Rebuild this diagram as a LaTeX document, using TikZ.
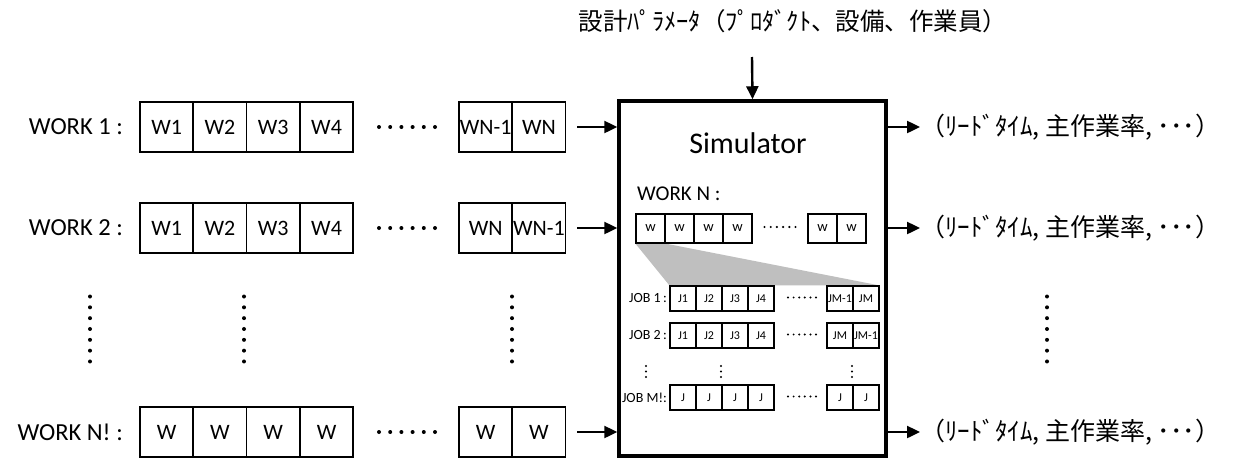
\documentclass[tikz,border=0pt]{standalone}
\usepackage{fontspec}
\setmainfont{Carlito}
\newfontfamily\jpfont{Noto Sans CJK JP}
\usetikzlibrary{arrows.meta,backgrounds}

\begin{document}
\begin{tikzpicture}[x=1pt,y=-1pt,
  cell/.style={draw, line width=1.7pt, fill=white, minimum width=53.3pt, minimum height=50pt,
    inner sep=0pt, font=\fontsize{22}{22}\selectfont},
  wcell/.style={draw, line width=1.2pt, fill=white, minimum width=29pt, minimum height=29pt,
    inner sep=0pt, font=\fontsize{14.5}{14.5}\selectfont},
  jcell/.style={draw, line width=1.1pt, fill=white, minimum width=26pt, minimum height=25pt,
    inner sep=0pt, font=\fontsize{12}{12}\selectfont},
  rowlabel/.style={anchor=east, inner sep=0pt, font=\fontsize{24.5}{24.5}\selectfont},
  joblabel/.style={anchor=east, inner sep=0pt, font=\fontsize{14}{14}\selectfont},
  jptext/.style={inner sep=0pt, font=\jpfont\fontsize{25}{25}\selectfont},
  arr/.style={line width=2.4pt, -{Triangle[length=13pt,width=12pt]}},
]
\useasboundingbox (0,0) rectangle (1234,458);

% simulator block
\node[draw, line width=3.5pt, minimum width=267pt, minimum height=355pt, inner sep=0pt] (sim) at (752.5,278.5) {};
\node[font=\fontsize{30}{30}\selectfont] (simtitle) at (748,143) {Simulator};

% design parameters feeding the simulator
\node[jptext, font=\jpfont\fontsize{24.5}{24.5}\selectfont] (param) at (793,21) {設計ﾊﾟﾗﾒｰﾀ（ﾌﾟﾛﾀﾞｸﾄ、設備、作業員）};
\coordinate (pin) at (752,57);
\draw[arr] (pin) -- (sim.north);

% ---- work sequences (input permutations) ----
\foreach \row/\y/\lab/\a/\b/\c/\d/\e/\f in {
    1/127/{WORK 1 :}/W1/W2/W3/W4/WN-1/WN,
    2/228/{WORK 2 :}/W1/W2/W3/W4/WN/WN-1,
    3/432/{WORK N! :}/W/W/W/W/W/W} {
  \node[rowlabel] (lab\row) at (123,\y) {\lab};
  \node[cell] (r\row c1) at (166.65,\y) {\a};
  \node[cell] (r\row c2) at (219.95,\y) {\b};
  \node[cell] (r\row c3) at (273.25,\y) {\c};
  \node[cell] (r\row c4) at (326.55,\y) {\d};
  \node[cell] (r\row c5) at (485.65,\y) {\e};
  \node[cell] (r\row c6) at (538.95,\y) {\f};
  \foreach \k in {0,...,5} \fill ({379+11.2*\k},\y) circle (2pt);
  \draw[arr] ([xshift=11pt]r\row c6.east) -- (r\row c6.east -| sim.west);
}

% vertical ellipses between the rows
\foreach \x in {90,244,512,1047}
  \foreach \k in {0,...,6} \fill (\x,{296.5+10.83*\k}) circle (2pt);

% ---- outputs ----
\foreach \row/\y in {1/127,2/228,3/432} {
  \node[jptext, anchor=west] (out\row) at (920,\y) {（ﾘｰﾄﾞﾀｲﾑ, 主作業率, ･･･）};
  \draw[arr] (out\row.west -| sim.east) -- (out\row.west);
}

% ---- inside the simulator: one work sequence ----
\node[anchor=west, inner sep=0pt, font=\fontsize{21}{21}\selectfont] (worknlab) at (637,194) {WORK N :};
\foreach \i in {1,...,4} \node[wcell] (w\i) at ({621.5+29*\i},228.5) {w};
\node[wcell] (w5) at (822.5,228.5) {w};
\node[wcell] (w6) at (851.5,228.5) {w};
\foreach \k in {0,...,5} \fill ({764.5+6.2*\k},227) circle (1.2pt);

% job sequences of the selected work
\foreach \row/\y/\lab/\a/\b/\c/\d/\e/\f in {
    1/298.5/{JOB 1\,:}/J1/J2/J3/J4/JM-1/JM,
    2/335.5/{JOB 2\,:}/J1/J2/J3/J4/JM/JM-1,
    3/397.5/{JOB M!:}/J/J/J/J/J/J} {
  \node[joblabel] (jl\row) at (667,\y) {\lab};
  \node[jcell] (j\row c1) at (683,\y) {\a};
  \node[jcell] (j\row c2) at (709,\y) {\b};
  \node[jcell] (j\row c3) at (735,\y) {\c};
  \node[jcell] (j\row c4) at (761,\y) {\d};
  \node[jcell] (j\row c5) at (840,\y) {\e};
  \node[jcell] (j\row c6) at (866,\y) {\f};
  \foreach \k in {0,...,5} \fill ({788+5.6*\k},{\y-1}) circle (1.1pt);
}
\foreach \x in {646,721,852}
  \foreach \k in {0,1,2} \fill (\x,{366+5.5*\k}) circle (1.1pt);

% expansion wedge from the first work to its job list
\begin{scope}[on background layer]
  \fill[gray!50] (w1.south west) -- (w1.south east) -- (j1c6.north east) -- (j1c1.north west) -- cycle;
\end{scope}
\end{tikzpicture}
\end{document}
